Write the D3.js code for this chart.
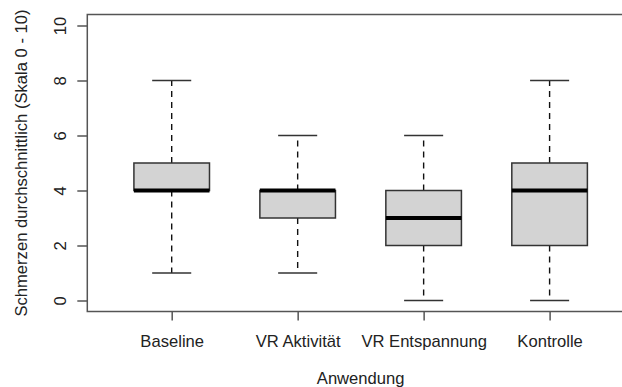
<!DOCTYPE html>
<html>
<head>
<meta charset="utf-8">
<script src="https://cdn.jsdelivr.net/npm/d3@7"></script>
<style>
  html, body { margin: 0; padding: 0; background: #fff; }
  svg { display: block; }
  text { font-family: "Liberation Sans", Arial, sans-serif; fill: #222; }
</style>
</head>
<body>
<svg id="chart" width="622" height="387"></svg>
<script>
// Pain ratings per condition (scale 0 - 10)
const categories = ["Baseline", "VR Aktivität", "VR Entspannung", "Kontrolle"];
const whiskerLow  = [1, 1, 0, 0];
const quartile1   = [4, 3, 2, 2];
const medians     = [4, 4, 3, 4];
const quartile3   = [5, 4, 4, 5];
const whiskerHigh = [8, 6, 6, 8];
const yTicks = [0, 2, 4, 6, 8, 10];
const xTitle = "Anwendung";
const yTitle = "Schmerzen durchschnittlich (Skala 0 - 10)";

const svg = d3.select("#chart");
const fontSize = "16.6px";

// positions 1..n with R-style padding around the box range
const x = d3.scaleLinear().domain([0.33, categories.length + 0.67]).range([87.3, 634]);
const y = d3.scaleLinear().domain([-0.4, 10.4]).range([311.5, 14.5]);

const boxHalf = 0.3, capHalf = 0.155;
const frameColor = "#555";
const boxStroke = "#333";

const data = categories.map((c, i) => ({
  name: c, pos: i + 1,
  lo: whiskerLow[i], q1: quartile1[i], med: medians[i], q3: quartile3[i], hi: whiskerHigh[i]
}));

// plot frame
const [x0, x1] = x.range();
const [yb, yt] = y.range();
svg.append("rect")
  .attr("x", x0).attr("y", yt)
  .attr("width", x1 - x0).attr("height", yb - yt)
  .attr("fill", "none").attr("stroke", frameColor).attr("stroke-width", 1.5);

// boxes
const g = svg.append("g").selectAll("g").data(data).join("g");

g.append("line")
  .attr("x1", d => x(d.pos)).attr("x2", d => x(d.pos))
  .attr("y1", d => y(d.q3)).attr("y2", d => y(d.hi))
  .attr("stroke", "#111").attr("stroke-width", 1.4).attr("stroke-dasharray", "6,5");
g.append("line")
  .attr("x1", d => x(d.pos)).attr("x2", d => x(d.pos))
  .attr("y1", d => y(d.q1)).attr("y2", d => y(d.lo))
  .attr("stroke", "#111").attr("stroke-width", 1.4).attr("stroke-dasharray", "6,5");

g.append("line")
  .attr("x1", d => x(d.pos - capHalf)).attr("x2", d => x(d.pos + capHalf))
  .attr("y1", d => y(d.hi)).attr("y2", d => y(d.hi))
  .attr("stroke", boxStroke).attr("stroke-width", 1.5);
g.append("line")
  .attr("x1", d => x(d.pos - capHalf)).attr("x2", d => x(d.pos + capHalf))
  .attr("y1", d => y(d.lo)).attr("y2", d => y(d.lo))
  .attr("stroke", boxStroke).attr("stroke-width", 1.5);

g.append("rect")
  .attr("x", d => x(d.pos - boxHalf))
  .attr("width", d => x(d.pos + boxHalf) - x(d.pos - boxHalf))
  .attr("y", d => y(d.q3))
  .attr("height", d => y(d.q1) - y(d.q3))
  .attr("fill", "#d3d3d3").attr("stroke", boxStroke).attr("stroke-width", 1.5);

g.append("line")
  .attr("x1", d => x(d.pos - boxHalf)).attr("x2", d => x(d.pos + boxHalf))
  .attr("y1", d => y(d.med)).attr("y2", d => y(d.med))
  .attr("stroke", "#000").attr("stroke-width", 4);

// y axis
const yAxis = svg.append("g").attr("transform", `translate(${x0},0)`)
  .call(d3.axisLeft(y).tickValues(yTicks).tickSize(10).tickPadding(0).tickFormat(d3.format("d")));
yAxis.select(".domain").remove();
yAxis.selectAll(".tick line").attr("stroke", frameColor).attr("stroke-width", 1.5);
yAxis.selectAll(".tick text")
  .attr("x", 0).attr("y", 0).attr("dy", null)
  .attr("text-anchor", "middle")
  .attr("transform", "translate(-21.5,0) rotate(-90)")
  .style("font-size", fontSize).style("font-family", "Liberation Sans, Arial, sans-serif")
  .attr("fill", "#222");

// x axis
const xAxis = svg.append("g").attr("transform", `translate(0,${yb})`)
  .call(d3.axisBottom(x).tickValues(data.map(d => d.pos)).tickSize(9).tickPadding(0)
    .tickFormat((d, i) => categories[i]));
xAxis.select(".domain").remove();
xAxis.selectAll(".tick line").attr("stroke", frameColor).attr("stroke-width", 1.5);
xAxis.selectAll(".tick text")
  .attr("y", 35.5).attr("dy", null)
  .style("font-size", fontSize).style("font-family", "Liberation Sans, Arial, sans-serif")
  .attr("fill", "#222");

// axis titles
svg.append("text")
  .attr("x", (x0 + x1) / 2).attr("y", 383.5)
  .attr("text-anchor", "middle")
  .style("font-size", fontSize)
  .text(xTitle);

svg.append("text")
  .attr("transform", `translate(26.5,${(yt + yb) / 2}) rotate(-90)`)
  .attr("text-anchor", "middle")
  .style("font-size", fontSize)
  .text(yTitle);
</script>
</body>
</html>
